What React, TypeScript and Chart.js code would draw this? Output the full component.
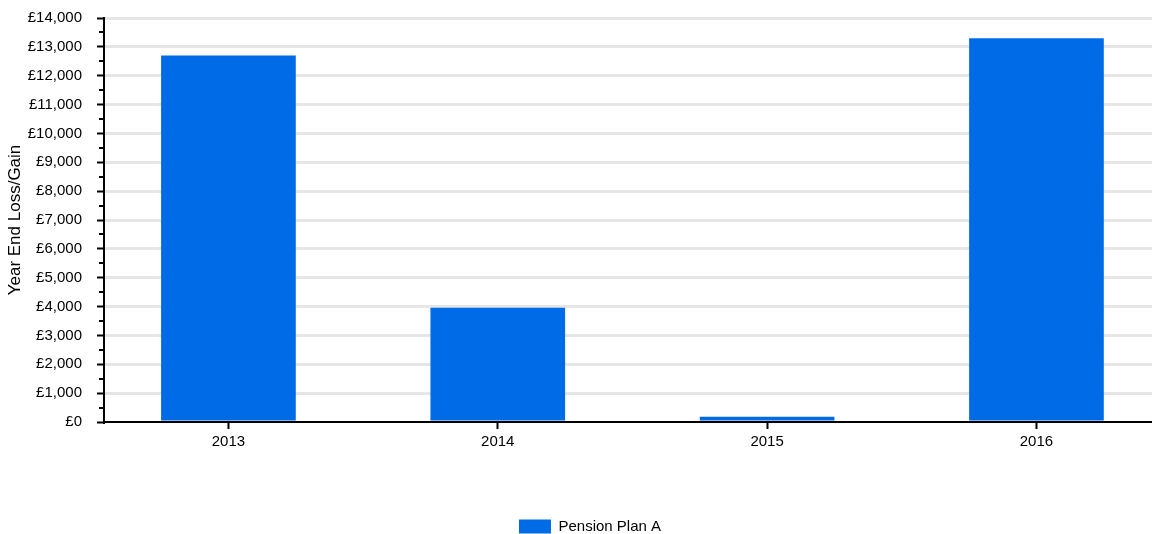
import React, { useEffect, useRef } from 'react';
import { Chart, registerables } from 'chart.js';

Chart.register(...registerables);

const years = [2013, 2014, 2015, 2016];
const gains = [12700, 3960, 180, 13300];
const seriesLabel = 'Pension Plan A';
const yTitle = 'Year End Loss/Gain';
const yMax = 14000;
const yStep = 1000;

const minorTicks = {
  id: 'minorTicks',
  afterDraw(chart: any) {
    const ys = chart.scales.y;
    const ctx = chart.ctx;
    const left = chart.chartArea.left;
    ctx.save();
    ctx.strokeStyle = '#000';
    ctx.lineWidth = 2;
    for (let v = yStep / 2; v < yMax; v += yStep) {
      const py = Math.round(ys.getPixelForValue(v));
      ctx.beginPath();
      ctx.moveTo(left - 5, py);
      ctx.lineTo(left, py);
      ctx.stroke();
    }
    ctx.restore();
  },
};

const legendShift = {
  id: 'legendShift',
  afterLayout(chart: any) {
    const l = chart.legend;
    if (!l) return;
    l.left += 14;
    l.right += 14;
    l.top += 10;
    l.bottom += 10;
  },
};

export default function App() {
  const ref = useRef<HTMLCanvasElement | null>(null);

  useEffect(() => {
    if (!ref.current) return;
    Chart.defaults.font.family = '"Liberation Sans", Arial, sans-serif';
    const chart = new Chart(ref.current, {
      type: 'bar',
      data: {
        labels: years,
        datasets: [
          {
            label: seriesLabel,
            data: gains,
            backgroundColor: '#006BE6',
            borderWidth: 0,
            categoryPercentage: 0.5,
            barPercentage: 1,
          },
        ],
      },
      options: {
        animation: false,
        responsive: true,
        maintainAspectRatio: false,
        layout: { padding: { top: 18, right: 0, bottom: 0, left: 0 } },
        plugins: {
          legend: {
            position: 'bottom',
            labels: {
              boxWidth: 32,
              boxHeight: 14,
              color: '#000',
              font: { size: 15 },
            },
          },
          tooltip: { enabled: false },
        },
        scales: {
          x: {
            type: 'linear',
            offset: false,
            min: 2012.538,
            max: 2016.429,
            afterBuildTicks: (s: any) => {
              s.ticks = years.map((v) => ({ value: v }));
            },
            afterFit: (s: any) => {
              s.height = 77;
            },
            grid: {
              offset: false,
              drawOnChartArea: false,
              drawTicks: true,
              tickLength: 7,
              tickColor: '#000',
              tickWidth: 2,
            },
            border: { display: true, color: '#000', width: 2 },
            ticks: {
              callback: (v: any) => String(v),
              color: '#000',
              font: { size: 15 },
              padding: 4,
              maxRotation: 0,
              autoSkip: false,
            },
          },
          y: {
            min: 0,
            max: yMax,
            afterFit: (s: any) => {
              s.width = 104;
              s.paddingTop = 0;
              s.paddingBottom = 0;
            },
            ticks: {
              stepSize: yStep,
              callback: (v: any) => '£' + Number(v).toLocaleString('en-GB'),
              color: '#000',
              font: { size: 15 },
              padding: 15,
            },
            grid: {
              color: (c: any) => (c.tick && c.tick.value === 0 ? 'rgba(0,0,0,0)' : '#e6e6e6'),
              lineWidth: 3,
              tickColor: '#000',
              tickWidth: 2,
              tickLength: 7,
            },
            border: { display: true, color: '#000', width: 2 },
            title: {
              display: true,
              text: yTitle,
              color: '#000',
              font: { size: 17 },
              padding: { top: 5, bottom: 0 },
            },
          },
        },
      },
      plugins: [minorTicks, legendShift],
    } as any);
    return () => chart.destroy();
  }, []);

  return (
    <div style={{ position: 'fixed', left: 0, top: 0, width: 1152, height: 534 }}>
      <canvas ref={ref} />
    </div>
  );
}
